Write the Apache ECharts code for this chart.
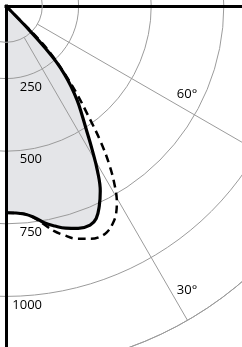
<!DOCTYPE html>
<html>
<head>
<meta charset="utf-8">
<script src="https://cdn.jsdelivr.net/npm/echarts@6/dist/echarts.min.js"></script>
<style>
  html, body { margin: 0; padding: 0; background: #fff; }
  #chart { width: 242px; height: 347px; }
</style>
</head>
<body>
<div id="chart"></div>
<script>
// angle from nadir (deg) and luminous intensity (cd)
const solidAngles = [0, 5, 8, 10, 12.5, 15, 18, 21, 23, 25, 27, 29, 31, 33, 35, 37, 39, 40.5, 42, 43, 44, 45];
const solidValues = [712, 719, 738, 758, 776, 792, 805, 808, 795, 760, 715, 650, 575, 508, 455, 408, 355, 312, 258, 200, 120, 0];
const dashAngles = [0, 5, 8, 10, 12, 14, 17, 20, 22, 24, 26, 28, 29.5, 31, 33, 35, 37, 39, 41, 43, 44.5, 46];
const dashValues = [712, 719, 740, 765, 792, 812, 838, 853, 858, 853, 836, 808, 775, 730, 655, 565, 465, 385, 305, 235, 160, 0];
const radiusTicks = [250, 500, 750, 1000];
const angleLabels = ['60°', '30°'];

const font = '"Open Sans", sans-serif';
const gridGray = '#9b9b9b';
const center = [6, 6];
const outer = 363;

const chart = echarts.init(document.getElementById('chart'));

function pairs(angles, values) {
  return angles.map((a, i) => [values[i], a]);
}

const hidden = {
  axisLine: { show: false },
  axisTick: { show: false },
  axisLabel: { show: false },
  splitLine: { show: false }
};

const option = {
  animation: false,
  polar: [
    { center: center, radius: [0, outer] },
    { center: center, radius: [outer * 0.1, outer] },
    { center: center, radius: [0, outer] }
  ],
  angleAxis: [
    Object.assign({ polarIndex: 0, type: 'value', min: 0, max: 360, startAngle: 270, clockwise: false }, hidden),
    {
      polarIndex: 1, type: 'value', min: 0, max: 360, interval: 30,
      startAngle: 270, clockwise: false, z: 1,
      axisLine: { show: true, lineStyle: { color: gridGray, width: 1 } },
      splitLine: { show: true, lineStyle: { color: gridGray, width: 1 } },
      axisTick: { show: false },
      axisLabel: { show: false }
    },
    Object.assign({ polarIndex: 2, type: 'value', min: 0, max: 360, startAngle: 0, clockwise: false }, hidden)
  ],
  radiusAxis: [
    {
      polarIndex: 0, type: 'value', min: 0, max: 1250, interval: 250, z: 1,
      axisLine: { show: true, lineStyle: { color: '#000', width: 3, cap: 'square' } },
      axisTick: { show: false },
      splitLine: { show: true, lineStyle: { color: gridGray, width: 1 } },
      axisLabel: {
        show: true,
        margin: 36,
        align: 'right',
        verticalAlign: 'top',
        padding: [2, 0, 0, 0],
        color: '#000',
        fontSize: 13,
        fontFamily: font,
        formatter: v => radiusTicks.indexOf(v) >= 0 ? String(v) : ''
      }
    },
    Object.assign({ polarIndex: 1, type: 'value', min: 125, max: 1250 }, hidden),
    Object.assign({ polarIndex: 2, type: 'value', min: 0, max: 1250, z: 1 }, hidden, {
      axisLine: { show: true, lineStyle: { color: '#000', width: 3, cap: 'square' } }
    })
  ],
  graphic: [
    { type: 'text', x: 187, y: 94, z: 10, style: { text: angleLabels[0], align: 'center', verticalAlign: 'middle', fill: '#000', font: '13px ' + font } },
    { type: 'text', x: 187, y: 290, z: 10, style: { text: angleLabels[1], align: 'center', verticalAlign: 'middle', fill: '#000', font: '13px ' + font } }
  ],
  series: [
    {
      type: 'line', coordinateSystem: 'polar', polarIndex: 0, z: 0,
      data: pairs(solidAngles, solidValues),
      symbol: 'none', smooth: 0.4, silent: true,
      lineStyle: { width: 0 },
      areaStyle: { color: '#e4e5e8', opacity: 1 }
    },
    {
      type: 'line', coordinateSystem: 'polar', polarIndex: 0, z: 3,
      data: pairs(dashAngles, dashValues),
      symbol: 'none', smooth: 0.4,
      lineStyle: { color: '#000', width: 2.5, type: [8, 5] }
    },
    {
      type: 'line', coordinateSystem: 'polar', polarIndex: 0, z: 4,
      data: pairs(solidAngles, solidValues),
      symbol: 'none', smooth: 0.4,
      lineStyle: { color: '#000', width: 3.2 }
    }
  ]
};

chart.setOption(option);
window.addEventListener('resize', () => chart.resize());
</script>
</body>
</html>
